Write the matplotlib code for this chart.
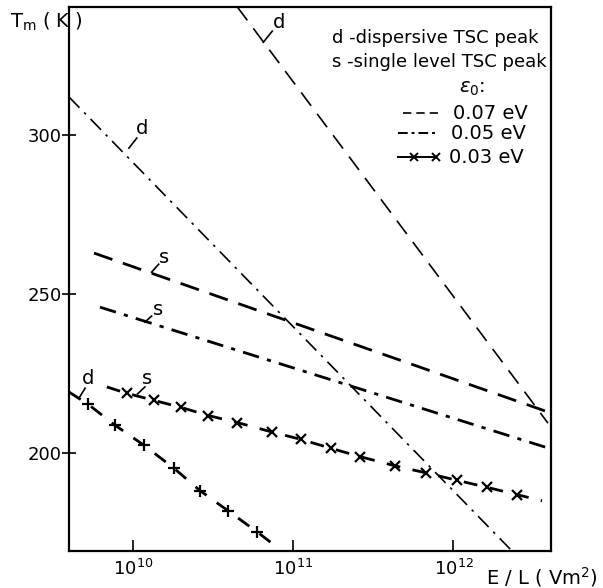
import numpy as np
import matplotlib
matplotlib.use("Agg")
import matplotlib.pyplot as plt

# E/L values (V m^-2) and peak temperatures Tm (K)
d07_E = [4.49e10, 3.89e12]
d07_T = [340.3, 209.4]
s07_E = [5.73e9, 4.06e12]
s07_T = [262.9, 212.6]
d05_E = [4.0e9, 2.32e12]
d05_T = [312.0, 169.2]
s05_E = [6.24e9, 4.06e12]
s05_T = [245.9, 201.3]

# 0.03 eV curves, first and last entries are line ends, the rest carry crosses
d03_E = [4.0e9, 5.25e9, 7.73e9, 1.17e10, 1.80e10, 2.64e10, 3.94e10, 5.97e10, 8.07e10]
d03_T = [219.2, 215.4, 208.8, 202.5, 195.3, 188.1, 181.8, 175.2, 170.1]
s03_E = [6.89e9, 9.18e9, 1.35e10, 1.99e10, 2.96e10, 4.49e10, 7.41e10, 1.12e11,
         1.72e11, 2.61e11, 4.31e11, 6.70e11, 1.06e12, 1.63e12, 2.50e12, 3.57e12]
s03_T = [220.8, 218.8, 216.6, 214.4, 211.8, 209.6, 206.6, 204.3,
         201.5, 198.9, 196.0, 193.8, 191.4, 189.2, 186.9, 185.0]

# curve labels: (letter, tick start, tick end, text position)
labels = [
    ("d", (6.52e10, 329.2), (7.41e10, 332.7), (8.19e10, 335.5)),
    ("d", (9.45e9, 295.9), (1.06e10, 299.1), (1.15e10, 302.2)),
    ("s", (1.31e10, 256.9), (1.45e10, 259.4), (1.56e10, 261.6)),
    ("s", (1.19e10, 241.2), (1.31e10, 243.1), (1.43e10, 245.3)),
    ("d", (4.62e9, 217.3), (5.04e9, 220.4), (5.25e9, 223.6)),
    ("s", (1.07e10, 218.6), (1.19e10, 220.8), (1.22e10, 223.3)),
]

fig = plt.figure(figsize=(6.03, 5.88), dpi=100)
ax = fig.add_axes([69 / 603, 1 - 551 / 588, 482 / 603, 544 / 588])

thin = 1.2
thick = 2.0
ax.plot(d07_E, d07_T, color="black", lw=thin, dashes=(10, 6))
ax.plot(s07_E, s07_T, color="black", lw=thick, dashes=(7, 4))
ax.plot(d05_E, d05_T, color="black", lw=thin, dashes=(9, 4, 1.5, 4))
ax.plot(s05_E, s05_T, color="black", lw=thick, dashes=(6, 3, 1.5, 3))
ax.plot(d03_E, d03_T, color="black", lw=thick, dashes=(5, 4.5))
ax.plot(d03_E[1:-1], d03_T[1:-1], ls="none", marker="+", ms=9, mew=1.6, color="black")
ax.plot(s03_E, s03_T, color="black", lw=thick, dashes=(5, 4.5))
ax.plot(s03_E[1:-1], s03_T[1:-1], ls="none", marker="x", ms=7, mew=1.6, color="black")

for letter, p0, p1, pt in labels:
    ax.plot([p0[0], p1[0]], [p0[1], p1[1]], color="black", lw=1.2)
    ax.text(pt[0], pt[1], letter, fontsize=14, ha="center", va="center")

ax.set_xscale("log")
ax.set_xlim(4.0e9, 4.06e12)
ax.set_ylim(169.2, 340.3)
ax.set_xticks([1e10, 1e11, 1e12])
ax.set_yticks([200, 250, 300])
ax.minorticks_off()
ax.tick_params(axis="x", direction="in", length=8, width=1.2, labelsize=13, pad=6)
ax.tick_params(axis="y", direction="inout", length=10, width=1.2, labelsize=13, pad=0)
for sp in ax.spines.values():
    sp.set_linewidth(1.6)

# key
ax.text(0.546, 0.943, "d -dispersive TSC peak", transform=ax.transAxes, fontsize=13, va="center")
ax.text(0.546, 0.899, "s -single level TSC peak", transform=ax.transAxes, fontsize=13, va="center")
ax.text(0.81, 0.851, r"$\epsilon_0$:", transform=ax.transAxes, fontsize=14, va="center")
ax.plot([0.693, 0.766], [0.805, 0.805], transform=ax.transAxes, color="black", lw=1.2, dashes=(5, 3))
ax.plot([0.683, 0.766], [0.768, 0.768], transform=ax.transAxes, color="black", lw=1.4, dashes=(5, 2, 1.5, 2))
ax.plot([0.683, 0.762], [0.724, 0.724], transform=ax.transAxes, color="black", lw=1.4)
ax.plot([0.715, 0.762], [0.724, 0.724], transform=ax.transAxes, ls="none", marker="x", ms=6, mew=1.4, color="black")
ax.text(0.797, 0.805, "0.07 eV", transform=ax.transAxes, fontsize=14, va="center")
ax.text(0.792, 0.768, "0.05 eV", transform=ax.transAxes, fontsize=14, va="center")
ax.text(0.789, 0.724, "0.03 eV", transform=ax.transAxes, fontsize=14, va="center")

fig.text(10 / 603, 1 - 22 / 588, r"T$_\mathrm{m}$ ( K )", fontsize=14, va="center")
fig.text(598 / 603, 1 - 577 / 588, r"E / L ( Vm$^2$)", fontsize=14, va="center", ha="right")

fig.savefig("out.png", dpi=100)
